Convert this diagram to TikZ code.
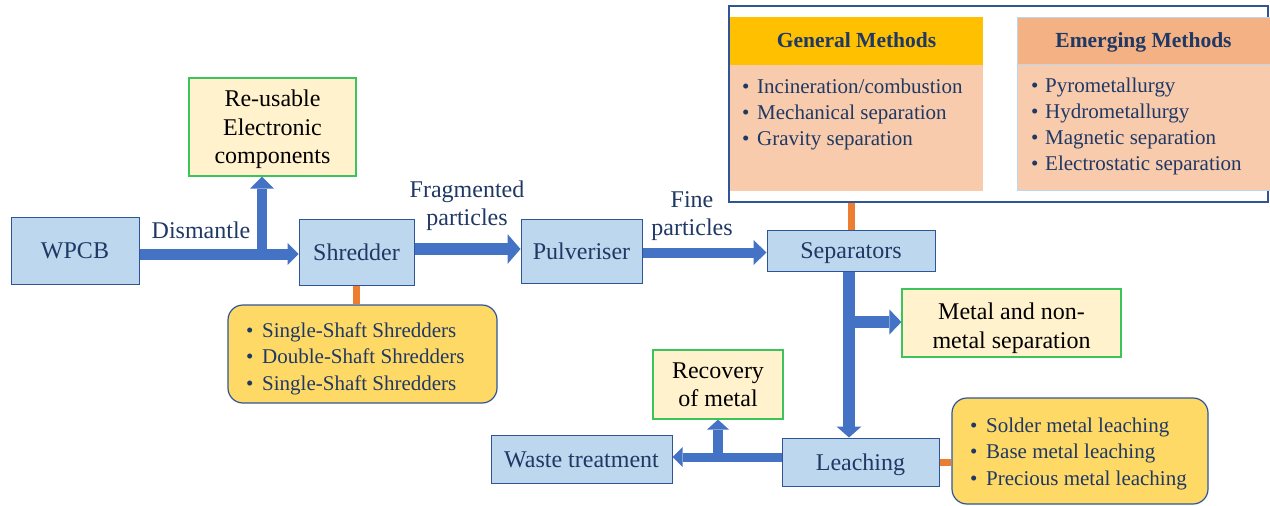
\documentclass[tikz,border=0pt]{standalone}
\usepackage{fontspec}
\setmainfont{Liberation Serif}
\usetikzlibrary{arrows.meta,calc}
\definecolor{navy}{HTML}{1F3864}
\definecolor{boxblue}{HTML}{BDD7EE}
\definecolor{boxedge}{HTML}{2F5597}
\definecolor{arrowblue}{HTML}{4472C4}
\definecolor{greenedge}{HTML}{3CC45A}
\definecolor{cream}{HTML}{FFF2CC}
\definecolor{listfill}{HTML}{FFD966}
\definecolor{stubcol}{HTML}{ED7D31}
\definecolor{genheadcol}{HTML}{FFC000}
\definecolor{emheadcol}{HTML}{F4B183}
\definecolor{panelbody}{HTML}{F8CBAD}
\definecolor{paneledge}{HTML}{BDD7EE}
\begin{document}
\begin{tikzpicture}[x=1pt,y=-1pt,
  bluebox/.style={draw=boxedge, line width=1pt, fill=boxblue, text=navy,
    font=\fontsize{24}{28}\selectfont, inner sep=0pt, text height=16pt, text depth=0pt},
  greenbox/.style={draw=greenedge, line width=1.2pt, fill=cream, text=black, align=center,
    font=\fontsize{24}{28.5}\selectfont, inner sep=0pt, text depth=0pt},
  listbox/.style={draw=boxedge, line width=1.2pt, fill=listfill, rounded corners=15pt, inner sep=0pt},
  flowlabel/.style={text=navy, align=center, font=\fontsize{24}{28}\selectfont, inner sep=0pt},
  bulletline/.style={anchor=base west, text=navy, inner sep=0pt, font=\fontsize{21}{24}\selectfont},
  headtext/.style={text=navy, inner sep=0pt, font=\fontsize{21.5}{24}\selectfont\bfseries,
    text height=14pt, text depth=1pt},
  blockarrow/.style n args={3}{draw=arrowblue, line width=#1,
    -{Triangle[width=#2,length=#3,line width=0pt]}},
  stub/.style={draw=stubcol, line width=7pt},
]
\useasboundingbox (0,0) rectangle (1270,506);

% ---- methods panel ----
\node[draw=boxedge, line width=1.5pt, minimum width=539pt, minimum height=196pt, inner sep=0pt] (methods) at (998.5,104) {};
\node[fill=genheadcol, minimum width=253pt, minimum height=48pt, inner sep=0pt] (genhead) at (856.5,41) {};
\node[fill=panelbody, minimum width=253pt, minimum height=126pt, inner sep=0pt, anchor=north] (genbody) at (genhead.south) {};
\node[headtext] (gentitle) at (genhead.center) {General Methods};
\node[fill=emheadcol, draw=paneledge, line width=0.8pt, minimum width=253pt, minimum height=47pt, inner sep=0pt] (emhead) at (1143.5,40.5) {};
\node[fill=panelbody, draw=paneledge, line width=0.8pt, minimum width=253pt, minimum height=126pt, inner sep=0pt, anchor=north] (embody) at (emhead.south) {};
\node[headtext] (emtitle) at (emhead.center) {Emerging Methods};

\node[bulletline] (g1) at (742,93) {\makebox[15pt][l]{\textbullet}Incineration/combustion};
\node[bulletline] (g2) at (742,119) {\makebox[15pt][l]{\textbullet}Mechanical separation};
\node[bulletline] (g3) at (742,145) {\makebox[15pt][l]{\textbullet}Gravity separation};

\node[bulletline] (e1) at (1031,92) {\makebox[14pt][l]{\textbullet}Pyrometallurgy};
\node[bulletline] (e2) at (1031,118) {\makebox[14pt][l]{\textbullet}Hydrometallurgy};
\node[bulletline] (e3) at (1031,144) {\makebox[14pt][l]{\textbullet}Magnetic separation};
\node[bulletline] (e4) at (1031,170) {\makebox[14pt][l]{\textbullet}Electrostatic separation};

% ---- main boxes ----
\node[bluebox, minimum width=128pt, minimum height=67pt] (wpcb) at (75,250.5) {WPCB};
\node[bluebox, minimum width=115pt, minimum height=66pt] (shredder) at (356.5,252) {Shredder};
\node[bluebox, minimum width=121pt, minimum height=64pt] (pulv) at (581.5,251) {Pulveriser};
\node[bluebox, minimum width=168pt, minimum height=41pt] (sep) at (851,250.5) {Separators};
\node[bluebox, minimum width=157pt, minimum height=48pt] (leach) at (860.5,462) {Leaching};
\node[bluebox, minimum width=181pt, minimum height=48pt] (waste) at (581.5,459) {Waste treatment};

\node[greenbox, minimum width=167pt, minimum height=98pt] (reuse) at (272.5,127) {Re-usable\\Electronic\\components};
\node[greenbox, minimum width=219pt, minimum height=68pt] (metal) at (1011.5,323) {\rule{0pt}{22pt}Metal and non-\\metal separation};
\node[greenbox, minimum width=130pt, minimum height=69pt] (recov) at (718,384.5) {Recovery\\of metal};

% ---- lists ----
\node[listbox, minimum width=269pt, minimum height=98pt] (shredlist) at (362.5,354) {};
\node[bulletline] (s1) at (246,337) {\makebox[16pt][l]{\textbullet}Single-Shaft Shredders};
\node[bulletline] (s2) at (246,363.5) {\makebox[16pt][l]{\textbullet}Double-Shaft Shredders};
\node[bulletline] (s3) at (246,390) {\makebox[16pt][l]{\textbullet}Single-Shaft Shredders};

\node[listbox, minimum width=256pt, minimum height=106pt] (leachlist) at (1080,451) {};
\node[bulletline] (l1) at (970,432) {\makebox[16pt][l]{\textbullet}Solder metal leaching};
\node[bulletline] (l2) at (970,458.5) {\makebox[16pt][l]{\textbullet}Base metal leaching};
\node[bulletline] (l3) at (970,485) {\makebox[16pt][l]{\textbullet}Precious metal leaching};

% ---- labels ----
\node[flowlabel, anchor=base] (dism) at (201,238) {Dismantle};
\node[flowlabel, anchor=base] (frag1) at (467,197) {Fragmented};
\node[flowlabel, anchor=base] (frag2) at (467,225) {particles};
\node[flowlabel, anchor=base] (fine1) at (692,207) {Fine};
\node[flowlabel, anchor=base] (fine2) at (692,235) {particles};

% ---- connectors ----
\coordinate (ylineA) at (0,254);
\coordinate (upX) at (262,0);
\coordinate (ylineB) at (0,249);
\coordinate (ylineC) at (0,252.5);
\coordinate (sepX) at (849,0);
\coordinate (ylineD) at (0,322);
\coordinate (ylineE) at (0,457);
\coordinate (recX) at (718,0);
\coordinate (junA) at (upX |- ylineA);
\coordinate (junD) at (sepX |- ylineD);
\coordinate (junE) at (recX |- ylineE);

\draw[stub] (shredder.south) -- (shredder.south |- shredlist.north);
\draw[stub] (sep.north) -- (sep.north |- methods.south);
\draw[stub] (leach.east) -- (leach.east -| leachlist.west);

\draw[blockarrow={11pt}{22pt}{11pt}] (wpcb.east |- ylineA) -- (shredder.west |- ylineA);
\draw[blockarrow={10pt}{24pt}{12pt}] ($(junA)+(0,-5)$) -- (upX |- reuse.south);
\draw[blockarrow={12pt}{30pt}{13pt}] (shredder.east |- ylineB) -- (pulv.west |- ylineB);
\draw[blockarrow={10pt}{25pt}{13pt}] (pulv.east |- ylineC) -- (sep.west |- ylineC);
\draw[blockarrow={12pt}{25pt}{11pt}] (sepX |- sep.south) -- (sepX |- leach.north);
\draw[blockarrow={12pt}{25pt}{12pt}] (junD) -- (metal.west |- ylineD);
\draw[blockarrow={9pt}{20pt}{10pt}] (leach.west |- ylineE) -- (waste.east |- ylineE);
\draw[blockarrow={10pt}{22pt}{10pt}] ($(junE)+(0,-4)$) -- (recX |- recov.south);
\end{tikzpicture}
\end{document}
